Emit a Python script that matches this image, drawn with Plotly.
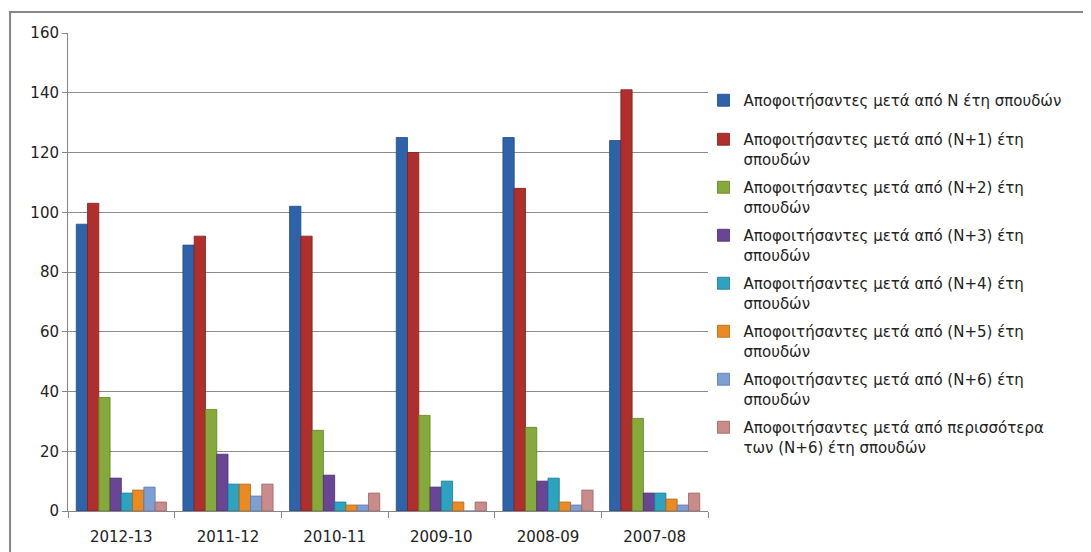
import plotly.graph_objects as go

categories = ["2012-13", "2011-12", "2010-11", "2009-10", "2008-09", "2007-08"]

series_names = [
    "Αποφοιτήσαντες μετά από Ν έτη σπουδών",
    "Αποφοιτήσαντες μετά από (Ν+1) έτη<br>σπουδών",
    "Αποφοιτήσαντες μετά από (Ν+2) έτη<br>σπουδών",
    "Αποφοιτήσαντες μετά από (Ν+3) έτη<br>σπουδών",
    "Αποφοιτήσαντες μετά από (Ν+4) έτη<br>σπουδών",
    "Αποφοιτήσαντες μετά από (Ν+5) έτη<br>σπουδών",
    "Αποφοιτήσαντες μετά από (Ν+6) έτη<br>σπουδών",
    "Αποφοιτήσαντες μετά από περισσότερα<br>των (Ν+6) έτη σπουδών",
]

n_years = [96, 89, 102, 125, 125, 124]
n1_years = [103, 92, 92, 120, 108, 141]
n2_years = [38, 34, 27, 32, 28, 31]
n3_years = [11, 19, 12, 8, 10, 6]
n4_years = [6, 9, 3, 10, 11, 6]
n5_years = [7, 9, 2, 3, 3, 4]
n6_years = [8, 5, 2, 0, 2, 2]
more_years = [3, 9, 6, 3, 7, 6]

series_values = [n_years, n1_years, n2_years, n3_years, n4_years, n5_years, n6_years, more_years]

y_ticks = [0, 20, 40, 60, 80, 100, 120, 140, 160]

colors = ["#2E63A9", "#B02F2C", "#86A93B", "#6A4596", "#2BA3C1", "#EC8A22", "#7E9FD3", "#C98C8B"]
edges = ["#1F4A82", "#7E1E1C", "#5F7D25", "#4A2E6C", "#1C7A92", "#B36415", "#5B79A8", "#9A6262"]

FONT = "DejaVu Sans, Open Sans, sans-serif"
FS = 15

fig = go.Figure()
for i, (name, vals) in enumerate(zip(series_names, series_values)):
    fig.add_trace(go.Bar(
        x=categories, y=vals, name=name,
        marker=dict(color=colors[i], line=dict(color=edges[i], width=0.8)),
        legend="legend" if i == 0 else "legend2",
        legendgroup="g%d" % i,
    ))

# page offset of the figure (browser body margin)
OFF = 8
W, H = 1091 - OFF, 552 - OFF
# plot area in page pixels
L, R, T, B = 68 - OFF, 708.5 - OFF, 33 - OFF, 511 - OFF
pw, ph = R - L, B - T

def px_x(x):
    return (x - OFF - L) / pw

def px_y(y):
    return (B - (y - OFF)) / ph

legend_common = dict(
    xanchor="left", yanchor="top",
    font=dict(family=FONT, size=FS, color="#222222"),
    bgcolor="rgba(0,0,0,0)", valign="top",
    tracegroupgap=6,
)

fig.update_layout(
    width=W, height=H,
    margin=dict(l=L, r=W - R, t=T, b=H - B, autoexpand=False),
    paper_bgcolor="white", plot_bgcolor="white",
    barmode="group", bargap=0.155, bargroupgap=0,
    font=dict(family=FONT, size=FS, color="#222222"),
    showlegend=True,
    legend=dict(x=px_x(704), y=px_y(84), **legend_common),
    legend2=dict(x=px_x(704), y=px_y(123), **legend_common),
    xaxis=dict(
        type="category", showline=True, linecolor="#868686", linewidth=1,
        ticks="outside", tickson="boundaries", ticklen=6, tickcolor="#868686",
        showgrid=False, tickfont=dict(family=FONT, size=FS, color="#222222"),
        ticklabelstandoff=12, automargin=False,
    ),
    yaxis=dict(
        range=[0, 160], tickvals=y_ticks, showline=True, linecolor="#868686", linewidth=1,
        ticks="outside", ticklen=5, tickcolor="#868686",
        showgrid=True, gridcolor="#8C8C8C", gridwidth=1, zeroline=False,
        tickfont=dict(family=FONT, size=FS, color="#222222"), automargin=False,
    ),
    shapes=[dict(
        type="rect", xref="paper", yref="paper",
        x0=px_x(10), x1=px_x(1100), y0=px_y(560), y1=px_y(12),
        line=dict(color="#868686", width=2), fillcolor="rgba(0,0,0,0)", layer="below",
    )],
)

fig.write_html("out.html")
